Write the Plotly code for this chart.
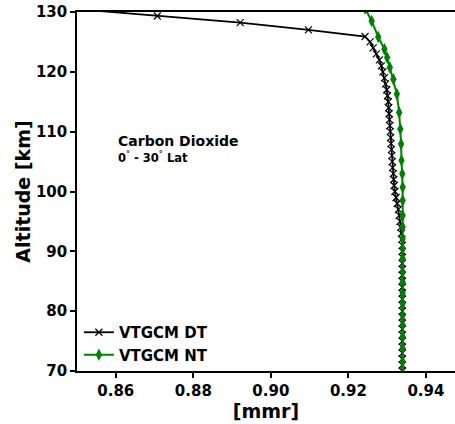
import plotly.graph_objects as go

# VTGCM DT (dayside) CO2 mass mixing ratio vs altitude
dt_alt = [130.8, 129.33, 128.22, 127.0, 125.9, 125.0, 124.0, 123.0, 122.0, 121.0,
          120.0, 119.0, 118.0, 117.0, 116.0, 115.0, 114.0, 113.0, 112.0, 111.0,
          110.0, 109.0, 108.0, 107.0, 106.0, 105.0, 104.0, 103.0, 102.0, 101.0,
          100.0, 99.0, 98.0, 97.0, 96.0, 95.0, 94.0, 93.0, 92.0, 91.0,
          90.0, 89.0, 88.0, 87.0, 86.0, 85.0, 84.0, 83.0, 82.0, 81.0,
          80.0, 79.0, 78.0, 77.0, 76.0, 75.0, 74.0, 73.0, 72.0, 71.0, 70.0]
dt_mmr = [0.8440, 0.8707, 0.8921, 0.9097, 0.9243, 0.9256, 0.9264, 0.9272, 0.9280, 0.9285,
          0.9289, 0.9293, 0.9296, 0.9299, 0.9301, 0.9303, 0.9304, 0.9305, 0.9306, 0.9307,
          0.9308, 0.9309, 0.9310, 0.9311, 0.9312, 0.9313, 0.9314, 0.9316, 0.9317, 0.9318,
          0.9320, 0.9323, 0.9326, 0.9329, 0.9331, 0.9333, 0.9335, 0.9337, 0.9338, 0.9339,
          0.9339, 0.9339, 0.9339, 0.9339, 0.9339, 0.9339, 0.9339, 0.9339, 0.9339, 0.9339,
          0.9339, 0.9339, 0.9339, 0.9339, 0.9339, 0.9339, 0.9339, 0.9339, 0.9339, 0.9339, 0.9339]

# VTGCM NT (nightside)
nt_alt = [130.6, 128.5, 125.83, 123.78, 122.38, 120.72, 118.78, 116.28, 113.22, 110.45,
          107.95, 105.17, 102.95, 100.72, 98.5, 96.0, 94.05, 92.12, 90.45, 88.78,
          86.55, 84.88, 82.95, 81.28, 79.33, 77.67, 75.72, 73.78, 71.55, 69.6]
nt_mmr = [0.9243, 0.9260, 0.9277, 0.9293, 0.9300, 0.9307, 0.9316, 0.9325, 0.9331, 0.9334,
          0.9336, 0.9337, 0.9339, 0.9340, 0.9340, 0.9340, 0.9340, 0.9340, 0.9340, 0.9340,
          0.9340, 0.9340, 0.9340, 0.9340, 0.9340, 0.9340, 0.9340, 0.9340, 0.9340, 0.9340]

x_ticks = [0.86, 0.88, 0.90, 0.92, 0.94]
y_ticks = [70, 80, 90, 100, 110, 120, 130]

FONT = "DejaVu Sans"

fig = go.Figure()
fig.add_trace(go.Scatter(
    x=dt_mmr, y=dt_alt, mode="lines+markers", name="<b>VTGCM DT</b>",
    line=dict(color="black", width=1.8),
    marker=dict(symbol="x-thin", size=7, line=dict(color="black", width=1.2)),
))
fig.add_trace(go.Scatter(
    x=nt_mmr, y=nt_alt, mode="lines+markers", name="<b>VTGCM NT</b>",
    line=dict(color="#008000", width=2),
    marker=dict(symbol="diamond-tall", size=9, color="#008000"),
))

fig.add_annotation(x=0.86, y=108.5, xref="x", yref="y", xanchor="left", yanchor="middle",
                   text="<b>Carbon Dioxide</b>", showarrow=False,
                   font=dict(family=FONT, size=14, color="black"))
fig.add_annotation(x=0.86, y=105.6, xref="x", yref="y", xanchor="left", yanchor="middle",
                   text="<b>0<sup>°</sup> - 30<sup>°</sup> Lat</b>", showarrow=False,
                   font=dict(family=FONT, size=11.5, color="black"))

fig.update_layout(
    width=455, height=424,
    margin=dict(l=77, r=0, t=12, b=53),
    paper_bgcolor="white", plot_bgcolor="white",
    font=dict(family=FONT, color="black"),
    showlegend=True,
    legend=dict(x=0.005, y=0.0, xanchor="left", yanchor="bottom",
                bgcolor="rgba(255,255,255,0)", borderwidth=0,
                font=dict(family=FONT, size=15, color="black"),
                itemwidth=30, tracegroupgap=0),
    xaxis=dict(range=[0.85, 0.9475], tickvals=x_ticks,
               ticktext=[f"<b>{v:.2f}</b>" for v in x_ticks],
               showgrid=False, zeroline=False, showline=True, linecolor="black",
               linewidth=1.6, mirror=True, ticks="outside", ticklen=5, tickwidth=1.5,
               tickcolor="black", tickfont=dict(family=FONT, size=15, color="black"),
               title=dict(text="<b>[mmr]</b>", font=dict(family=FONT, size=19), standoff=0)),
    yaxis=dict(range=[70, 130], tickvals=y_ticks,
               ticktext=[f"<b>{v}</b>" for v in y_ticks],
               showgrid=False, zeroline=False, showline=True, linecolor="black",
               linewidth=1.6, mirror=False, ticks="outside", ticklen=5, tickwidth=1.5,
               tickcolor="black", tickfont=dict(family=FONT, size=15, color="black"),
               title=dict(text="<b>Altitude [km]</b>", font=dict(family=FONT, size=19), standoff=0)),
)

# remove the default 8px page margin so the figure fills the window exactly
fig.write_html("out.html", config={"displayModeBar": False},
               post_script="document.body.style.margin='0';document.body.style.overflow='hidden';")
